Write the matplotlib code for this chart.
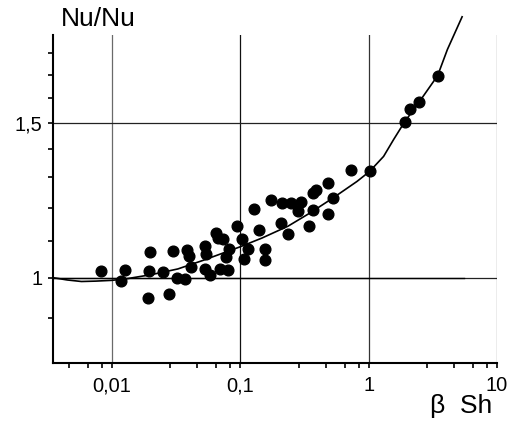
import numpy as np
import matplotlib
matplotlib.use("Agg")
import matplotlib.pyplot as plt
from matplotlib.ticker import FixedLocator, NullFormatter

plt.rcParams['font.family'] = ['Liberation Sans', 'DejaVu Sans']

# measured points (beta*Sh, Nu/Nu)
pts_x = [0.0082, 0.0126, 0.0119, 0.0198, 0.0195, 0.0193, 0.0253, 0.0278, 0.0300, 0.0322,
         0.0375, 0.0384, 0.0402, 0.0413, 0.0535, 0.0540, 0.0531, 0.0580, 0.0647, 0.0670,
         0.0739, 0.0824, 0.0774, 0.0695, 0.0806, 0.0946, 0.1041, 0.1156, 0.1075, 0.1283,
         0.140, 0.157, 0.156, 0.175, 0.207, 0.235, 0.211, 0.251, 0.282, 0.300,
         0.346, 0.369, 0.372, 0.393, 0.485, 0.533, 0.485, 0.730, 1.018, 1.91,
         2.09, 2.47, 3.45]
pts_y = [1.018, 1.019, 0.992, 1.069, 1.018, 0.948, 1.015, 0.959, 1.073, 0.999,
         0.997, 1.076, 1.058, 1.027, 1.086, 1.065, 1.024, 1.008, 1.125, 1.110,
         1.105, 1.077, 1.056, 1.022, 1.020, 1.144, 1.105, 1.079, 1.051, 1.198,
         1.134, 1.077, 1.047, 1.224, 1.153, 1.122, 1.217, 1.217, 1.189, 1.218,
         1.146, 1.192, 1.247, 1.257, 1.281, 1.233, 1.182, 1.325, 1.320, 1.503,
         1.555, 1.582, 1.696]

# fitted curve
curve_x = [0.00349, 0.0045, 0.00581, 0.0075, 0.01, 0.0130, 0.0204, 0.0327, 0.0512, 0.1,
           0.1476, 0.2357, 0.349, 0.530, 0.812, 1.018, 1.309, 1.567, 1.91, 2.47,
           3.45, 4.11, 5.35]
curve_y = [1.000, 0.994, 0.990, 0.991, 0.993, 0.997, 1.008, 1.023, 1.046, 1.084,
           1.109, 1.144, 1.184, 1.232, 1.286, 1.320, 1.373, 1.435, 1.503, 1.582,
           1.696, 1.816, 1.978]

ref_x = [0.00349, 5.5]
ref_y = [1.0, 1.0]

fig = plt.figure(figsize=(5.18, 4.28), dpi=100)
ax = fig.add_axes([53 / 518, 1 - 363 / 428, 444 / 518, 328 / 428])
ax.set_xscale('log')
ax.set_yscale('log')
ax.set_xlim(0.00349, 10)
ax.set_ylim(0.80, 1.886)

# grid
for gx, c in [(0.01, '#6a6a6a'), (0.1, '#111111'), (1, '#333333'), (10, '#6a6a6a')]:
    ax.axvline(gx, color=c, lw=0.9, zorder=1)
for gy in [1.0, 1.5]:
    ax.axhline(gy, color='#222222', lw=0.9, zorder=1)

ax.plot(ref_x, ref_y, color='black', lw=1.0, zorder=2)
ax.plot(curve_x, curve_y, color='black', lw=1.2, zorder=3, clip_on=False)
ax.plot(pts_x, pts_y, 'o', color='black', markersize=7.7, zorder=4)

for s in ['top', 'right']:
    ax.spines[s].set_visible(False)
for s in ['left', 'bottom']:
    ax.spines[s].set_linewidth(1.5)

ax.xaxis.set_major_locator(FixedLocator([0.01, 0.1, 1, 10]))
ax.set_xticklabels(['0,01', '0,1', '1', '10'])
subs = [2.85, 4.65, 6.5, 8.4]
xminor = [m * d for d in [0.001, 0.01, 0.1, 1] for m in subs]
ax.xaxis.set_minor_locator(FixedLocator(xminor))
ax.xaxis.set_minor_formatter(NullFormatter())

ax.yaxis.set_major_locator(FixedLocator([1.0, 1.5]))
ax.set_yticklabels(['1', '1,5'])
ax.yaxis.set_minor_locator(FixedLocator([0.9, 1.1, 1.2, 1.3, 1.4, 1.6, 1.7, 1.8]))
ax.yaxis.set_minor_formatter(NullFormatter())

ax.tick_params(axis='both', which='both', direction='out', width=1.2, colors='black',
               labelsize=14.4)
ax.tick_params(axis='x', which='both', length=3.5, pad=6)
ax.tick_params(axis='y', which='both', length=3.5, pad=4)

fig.text(61 / 518, 1 - 26 / 428, 'Nu/Nu', fontsize=19, ha='left', va='baseline')
fig.text(430 / 518, 1 - 413 / 428, 'β  Sh', fontsize=19, ha='left', va='baseline')

fig.savefig('out.png', dpi=100)
